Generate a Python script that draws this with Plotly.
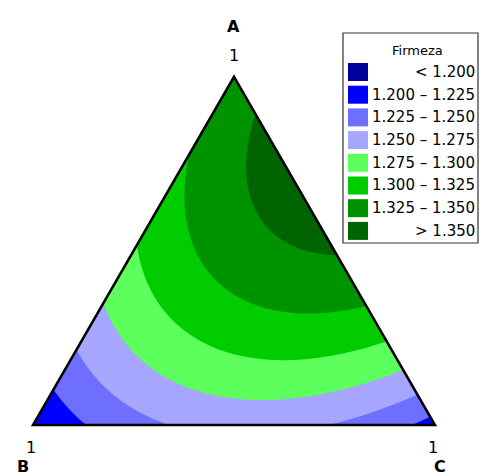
import numpy as np
import plotly.graph_objects as go

# ---- data: fitted mixture-model coefficients (Scheffé quadratic)
components = ["A", "B", "C"]
linear_coef = [1.333, 1.200, 1.215]          # A, B, C
binary_pairs = ["AB", "AC", "BC"]
binary_coef = [0.125, 0.31, 0.20]            # AB, AC, BC

# contour levels and legend labels
levels = [1.200, 1.225, 1.250, 1.275, 1.300, 1.325, 1.350]
legend_labels = ["< 1.200", "1.200 \u2013 1.225", "1.225 \u2013 1.250", "1.250 \u2013 1.275",
                 "1.275 \u2013 1.300", "1.300 \u2013 1.325", "1.325 \u2013 1.350", "> 1.350"]
band_colors = ["#00009c", "#0000ff", "#6e6eff", "#a6a6ff",
               "#5cff5c", "#00cc00", "#009300", "#006400"]
legend_title = "Firmeza"

W, H = 479, 476
H3 = np.sqrt(3) / 2

# ---- grid in cartesian coordinates of the simplex (B=(0,0), C=(1,0), A=(0.5,h))
n = 401
xs = np.linspace(0, 1, n)
ys = np.linspace(0, H3, n)
X, Y = np.meshgrid(xs, ys)
a = Y / H3
c = X - 0.5 * a
b = 1 - a - c
Z = (linear_coef[0] * a + linear_coef[1] * b + linear_coef[2] * c
     + binary_coef[0] * a * b + binary_coef[1] * a * c + binary_coef[2] * b * c)

step = levels[1] - levels[0]
nb = len(band_colors)
colorscale = [[i / (nb - 1), col] for i, col in enumerate(band_colors)]

fig = go.Figure()
fig.add_trace(go.Contour(
    x=xs, y=ys, z=Z,
    contours=dict(start=levels[0], end=levels[-1], size=step, coloring="fill", showlines=False),
    colorscale=colorscale, showscale=False, line=dict(width=0),
    hoverinfo="skip",
))

# pixel helpers (plot area == whole figure)
PX_B, PY_B, SCALE = 33.0, 425.0, 402.0
xr = [(0 - PX_B) / SCALE, (W - PX_B) / SCALE]
yr = [(PY_B - H) / SCALE, (PY_B - 0) / SCALE]

def px(xp):
    return xp / W

def py(yp):
    return 1 - yp / H

shapes = []
# white masks outside the triangle
shapes.append(dict(type="path", xref="x", yref="y", layer="above",
                   path=f"M 0,0 L 0.5,{H3} L 0.5,{H3+0.01} L -0.02,{H3+0.01} L -0.02,0 Z",
                   fillcolor="white", line=dict(width=0)))
shapes.append(dict(type="path", xref="x", yref="y", layer="above",
                   path=f"M 1,0 L 0.5,{H3} L 0.5,{H3+0.01} L 1.02,{H3+0.01} L 1.02,0 Z",
                   fillcolor="white", line=dict(width=0)))
# triangle outline
shapes.append(dict(type="path", xref="x", yref="y", layer="above",
                   path=f"M 0,0 L 1,0 L 0.5,{H3} Z",
                   fillcolor="rgba(0,0,0,0)", line=dict(color="black", width=2.5)))

# legend box
shapes.append(dict(type="rect", xref="paper", yref="paper", layer="above",
                   x0=px(343), x1=px(478), y0=py(243), y1=py(33),
                   fillcolor="white", line=dict(color="#333333", width=1.2)))

annotations = []
annotations.append(dict(text=legend_title, xref="paper", yref="paper", x=px(417), y=py(51),
                        showarrow=False, xanchor="center", yanchor="middle",
                        font=dict(family="DejaVu Sans", size=13, color="black")))
row0, dy = 72.0, 22.7
for i, (lab, col) in enumerate(zip(legend_labels, band_colors)):
    yc = row0 + i * dy
    shapes.append(dict(type="rect", xref="paper", yref="paper", layer="above",
                       x0=px(348), x1=px(368), y0=py(yc + 9), y1=py(yc - 9),
                       fillcolor=col, line=dict(width=0)))
    annotations.append(dict(text=lab, xref="paper", yref="paper", x=px(477), y=py(yc),
                            showarrow=False, xanchor="right", yanchor="middle",
                            font=dict(family="DejaVu Sans", size=15, color="black")))

# vertex labels
label_offsets = {"A": ((233, 26), (234, 55)), "B": ((23, 466), (31, 447)), "C": ((440, 466), (433, 447))}
for comp in components:
    (lx, ly), (ox, oy) = label_offsets[comp]
    annotations.append(dict(text=f"<b>{comp}</b>", xref="paper", yref="paper", x=px(lx), y=py(ly),
                            showarrow=False, xanchor="center", yanchor="middle",
                            font=dict(family="DejaVu Sans", size=16, color="black")))
    annotations.append(dict(text="1", xref="paper", yref="paper", x=px(ox), y=py(oy),
                            showarrow=False, xanchor="center", yanchor="middle",
                            font=dict(family="DejaVu Sans", size=16, color="black")))

fig.update_layout(
    width=W, height=H, autosize=False,
    margin=dict(l=0, r=0, t=0, b=0),
    paper_bgcolor="white", plot_bgcolor="white",
    xaxis=dict(range=xr, visible=False, fixedrange=True),
    yaxis=dict(range=yr, visible=False, fixedrange=True),
    shapes=shapes, annotations=annotations, showlegend=False,
)

fig.write_html("out.html", config={"displayModeBar": False},
               post_script="document.body.style.margin='0px';document.body.style.overflow='hidden';")
